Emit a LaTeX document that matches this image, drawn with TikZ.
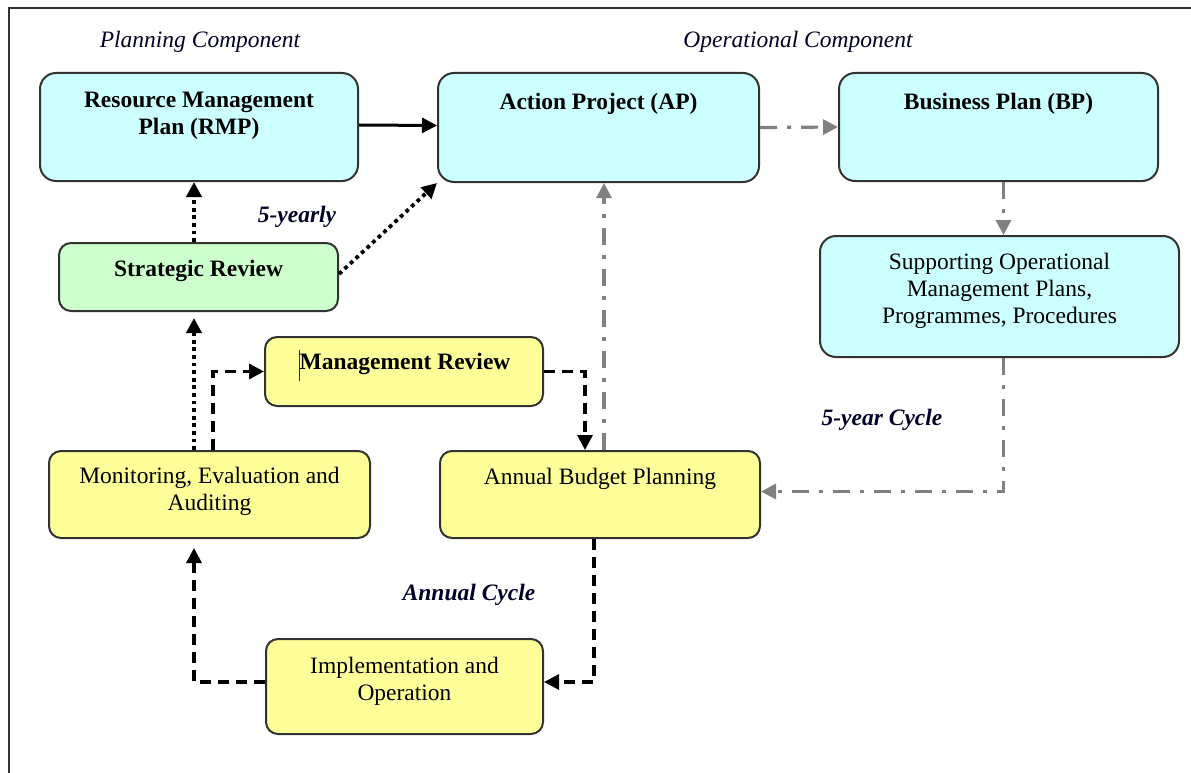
\documentclass[tikz,border=0pt]{standalone}
\usepackage{fontspec}
\setmainfont{Liberation Serif}
\usetikzlibrary{arrows.meta,calc}
\definecolor{cyanbox}{RGB}{204,255,255}
\definecolor{greenbox}{RGB}{204,255,204}
\definecolor{yellowbox}{RGB}{255,255,153}
\definecolor{edgecol}{RGB}{50,50,50}
\definecolor{grayline}{RGB}{128,128,128}
\definecolor{cursorcol}{RGB}{30,30,150}
\begin{document}
\begin{tikzpicture}[x=1pt,y=-1pt,
  box/.style={draw=edgecol, line width=2pt, rounded corners=#1, inner sep=0pt},
  box/.default=12pt,
  txt/.style={font=\fontsize{23.5}{27}\selectfont, align=center, inner sep=0pt},
  txtb/.style={font=\fontsize{23.5}{27}\selectfont\bfseries, align=center, inner sep=0pt},
  lbl/.style={font=\fontsize{23.5}{27}\selectfont\itshape, inner sep=0pt, text=black!85!blue},
  lblb/.style={font=\fontsize{23.5}{27}\selectfont\bfseries\itshape, inner sep=0pt, text=black!85!blue},
  tip/.style={-{Triangle[length=15pt,width=15pt]}},
  solidarrow/.style={tip, line width=3pt, black},
  grayarrow/.style={tip, line width=3.2pt, grayline, dash pattern=on 17pt off 10pt on 4pt off 10pt},
  dasharrow/.style={tip, line width=3.2pt, black, dash pattern=on 11pt off 7pt},
  dotarrow/.style={tip, line width=3.8pt, black, dash pattern=on 3.8pt off 3.8pt},
]
\useasboundingbox (0,0) rectangle (1191,773);
% frame
\draw[line width=2pt, edgecol] (9,773) -- (9,8) -- (1191,8);

% boxes
\node[box=16pt, fill=cyanbox, minimum width=318pt, minimum height=108pt] (rmp) at (199,127) {};
\node[box=16pt, fill=cyanbox, minimum width=321pt, minimum height=109pt] (ap) at (598.5,127.5) {};
\node[box=16pt, fill=cyanbox, minimum width=319pt, minimum height=108pt] (bp) at (998.5,127) {};
\node[box=16pt, fill=cyanbox, minimum width=359pt, minimum height=121pt] (sup) at (999.5,296.5) {};
\node[box, fill=greenbox, minimum width=279pt, minimum height=68pt] (sr) at (198.5,277) {};
\node[box, fill=yellowbox, minimum width=278pt, minimum height=69pt] (mr) at (404,371.5) {};
\node[box, fill=yellowbox, minimum width=321pt, minimum height=87pt] (mon) at (209.5,494.5) {};
\node[box, fill=yellowbox, minimum width=320pt, minimum height=87pt] (abp) at (600,494.5) {};
\node[box, fill=yellowbox, minimum width=277pt, minimum height=95pt] (imp) at (404.5,686.5) {};

% box texts
\node[txtb] (rmpt) at (199,116) {Resource Management\\Plan (RMP)};
\node[txtb] (apt) at (598.5,104) {Action Project (AP)};
\node[txtb] (bpt) at (998.5,104) {Business Plan (BP)};
\node[txt] (supt) at (999.5,291) {Supporting Operational\\Management Plans,\\Programmes, Procedures};
\node[txtb] (srt) at (198.5,271) {Strategic Review};
\node[txtb] (mrt) at (405,364) {Management Review};
\node[txt] (mont) at (209.5,491) {Monitoring, Evaluation and\\Auditing};
\node[txt] (abpt) at (600,479) {Annual Budget Planning};
\node[txt] (impt) at (404.5,681) {Implementation and\\Operation};

% text cursor mark
\draw[cursorcol, line width=1pt] (299,350) -- (299,381);

% labels
\node[lbl] (plan) at (200,42) {Planning Component};
\node[lbl] (oper) at (798,42) {Operational Component};
\node[lblb] (fivey) at (297,217) {5-yearly};
\node[lblb] (fivec) at (882,420) {5-year Cycle};
\node[lblb] (annc) at (469,595) {Annual Cycle};

% connectors
\draw[solidarrow] ([yshift=2pt]rmp.east) -- ([yshift=2pt]ap.west);
\draw[grayarrow] (ap.east) -- (bp.west);
\draw[grayarrow] ([xshift=5pt]bp.south) -- ([xshift=4pt]sup.north);
\draw[grayarrow] ([xshift=4pt]sup.south) |- ([yshift=3pt]abp.east);
\draw[grayarrow] ([xshift=4pt]abp.north) -- ([xshift=4pt]abp.north |- ap.south);

\draw[dotarrow] ([xshift=-4.5pt]sr.north) -- ([xshift=-4.5pt]sr.north |- rmp.south);
\draw[dotarrow] ([yshift=3pt]sr.east) -- (ap.south west);
\draw[dotarrow, shorten >=6pt] ([xshift=-15.5pt]mon.north) -- ([xshift=-15.5pt]mon.north |- sr.south);

\draw[dasharrow] ([xshift=3.5pt]mon.north) |- (mr.west);
\draw[dasharrow] (mr.east) -| ([xshift=-15pt]abp.north);
\draw[dasharrow] ([xshift=-6pt]abp.south) |- ([yshift=4.5pt]imp.east);
\draw[dasharrow, shorten >=9pt] ([yshift=4.5pt]imp.west) -| ([xshift=-15.5pt]mon.south);
\end{tikzpicture}
\end{document}
